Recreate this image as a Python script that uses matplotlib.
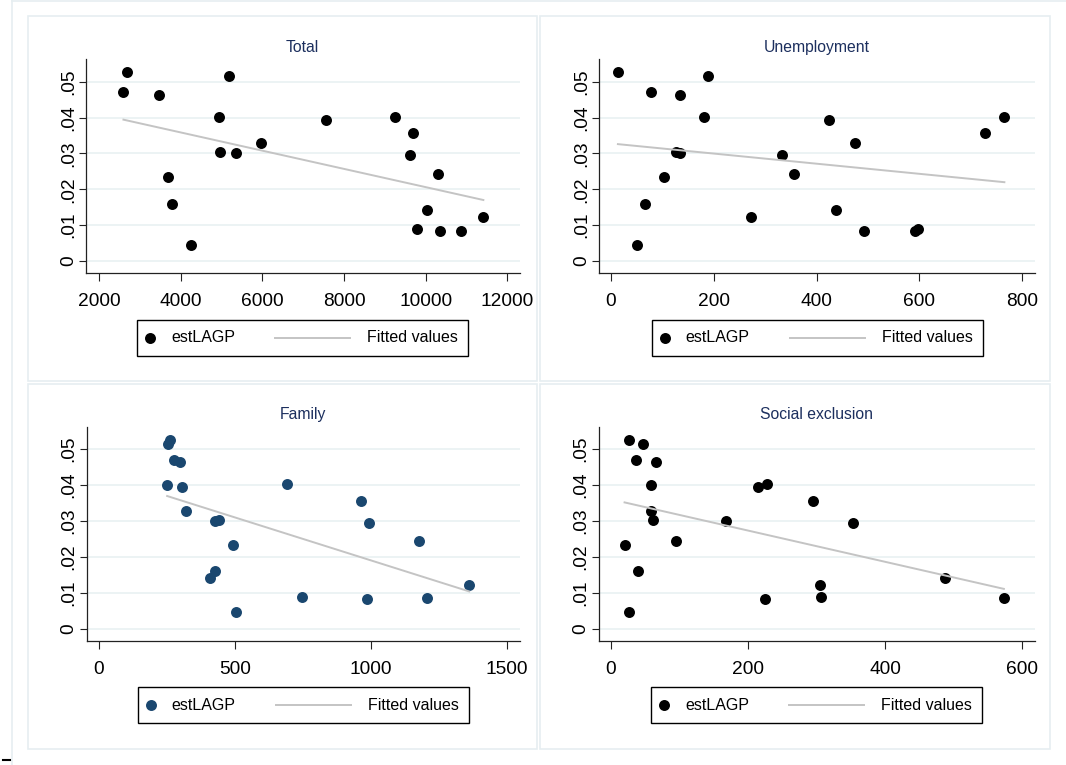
import numpy as np
import matplotlib
matplotlib.use('Agg')
import matplotlib.pyplot as plt
from matplotlib.patches import Rectangle
from matplotlib.lines import Line2D
from matplotlib.transforms import Affine2D

plt.rcParams['font.family'] = ['Liberation Sans', 'DejaVu Sans']

W, H = 1066, 765

# estLAGP (same y for every panel)
est_lagp = [.0526, .0515, .0470, .0464, .0402, .0401, .0394, .0357, .0329, .0304, .0301,
            .0295, .0243, .0234, .0160, .0142, .0122, .0089, .0084, .0085, .0046]

# spending by function
total = [2677, 5181, 2592, 3472, 9259, 4927, 7550, 9690, 5976, 4953, 5359,
         9606, 10316, 3675, 3777, 10029, 11416, 9784, 10342, 10866, 4259]
unemployment = [14, 189, 78, 135, 765, 182, 425, 728, 475, 127, 135,
                332, 356, 104, 66, 437, 272, 598, 492, 591, 52]
family = [262, 254, 275, 298, 691, 251, 304, 964, 322, 440, 426,
          994, 1179, 492, 427, 408, 1362, 746, 986, 1206, 505]
social = [26, 47, 37, 66, 228, 59, 215, 295, 59, 62, 168,
          353, 95, 20, 40, 487, 305, 306, 225, 573, 26]

titles = ['Total', 'Unemployment', 'Family', 'Social exclusion']
xvals = [total, unemployment, family, social]
xticks = [[2000, 4000, 6000, 8000, 10000, 12000], [0, 200, 400, 600, 800],
          [0, 500, 1000, 1500], [0, 200, 400, 600]]
xlims = [(1674, 12302), (-22.7, 824.5), (-45.6, 1547), (-18, 618.4)]
yticks = [0, .01, .02, .03, .04, .05]
ylabels = ['0', '.01', '.02', '.03', '.04', '.05']

navy = '#1a476f'
dot_colors = ['black', 'black', navy, 'black']
title_col = '#1c2f5e'
fit_col = '#c4c4c4'
frame_col = '#e6eef1'
grid_col = '#eaf2f3'

# axes rectangles in pixels: left, top, right, bottom
ax_px = [(86, 59.3, 519.5, 273.3), (599, 59.3, 1035, 273.3),
         (86.5, 426.7, 519.5, 641), (598.5, 426.7, 1035, 641)]
box_px = [(28, 16, 537, 381), (540, 16, 1050, 381),
          (28, 384, 537, 749), (540, 384, 1050, 749)]

fig = plt.figure(figsize=(W / 100, H / 100), dpi=100)
pix = Affine2D().scale(1.0 / W, -1.0 / H).translate(0, 1) + fig.transFigure

# outer graph region border
fig.add_artist(Line2D([12, 12], [0, H], transform=pix, color=frame_col, lw=1.2))
fig.add_artist(Line2D([12, W], [1, 1], transform=pix, color=frame_col, lw=1.2))
fig.add_artist(Line2D([3, 10], [760, 760], transform=pix, color='black', lw=1.5))

for i in range(4):
    l, t, r, b = ax_px[i]
    bl, bt, br, bb = box_px[i]
    fig.add_artist(Rectangle((bl, bt), br - bl, bb - bt, transform=pix,
                             fill=False, edgecolor=frame_col, lw=1.2))

    ax = fig.add_axes([l / W, 1 - b / H, (r - l) / W, (b - t) / H])
    x = np.array(xvals[i], dtype=float)
    y = np.array(est_lagp)

    ax.plot(x, y, 'o', color=dot_colors[i], markersize=7.9, markeredgewidth=0, zorder=3)
    coef = np.polyfit(x, y, 1)
    xs = np.array([x.min(), x.max()])
    ax.plot(xs, np.polyval(coef, xs), color=fit_col, lw=1.4, zorder=4)

    ax.set_xlim(*xlims[i])
    ax.set_ylim(-0.0034, 0.05625)
    ax.set_xticks(xticks[i])
    ax.set_yticks(yticks, labels=ylabels, rotation=90, va='center')
    ax.yaxis.grid(True, color=grid_col, lw=1.3)
    ax.set_axisbelow(True)
    for s in ['top', 'right']:
        ax.spines[s].set_visible(False)
    for s in ['left', 'bottom']:
        ax.spines[s].set_color('#222222')
        ax.spines[s].set_linewidth(0.9)
    ax.tick_params(axis='both', direction='out', length=5.4, width=0.8,
                   color='#222222', labelsize=13.8)
    ax.tick_params(axis='x', pad=9.0)
    ax.tick_params(axis='y', pad=1.2)
    ax.set_title(titles[i], fontsize=11.3, color=title_col, pad=5.5)

    # legend box under each plot
    cx = (l + r) / 2
    lx = cx - 165.5
    ly = b + 46.5
    fig.add_artist(Rectangle((lx, ly), 331, 36, transform=pix, fill=False,
                             edgecolor='black', lw=1.0))
    cy = ly + 18
    fig.add_artist(Line2D([lx + 13], [cy], transform=pix, marker='o', color=dot_colors[i],
                          markersize=7.9, markeredgewidth=0, linestyle='none'))
    fig.text((lx + 34) / W, 1 - cy / H, 'estLAGP', fontsize=11.5, va='center', ha='left')
    fig.add_artist(Line2D([lx + 138, lx + 213], [cy, cy], transform=pix,
                          color=fit_col, lw=1.4))
    fig.text((lx + 230) / W, 1 - cy / H, 'Fitted values', fontsize=11.5, va='center', ha='left')

fig.savefig('out.png', dpi=100)
